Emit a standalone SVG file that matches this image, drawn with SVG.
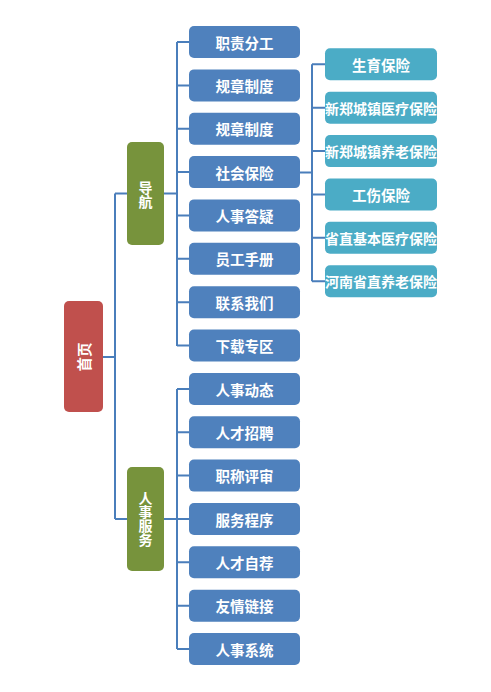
<svg xmlns="http://www.w3.org/2000/svg" width="491" height="692" viewBox="0 0 491 692">
<style>
.b{fill:#4F81BD}
.g{fill:#77933C}
.r{fill:#C0504D}
.t{fill:#4BACC6}
.lbl{font-family:"Noto Sans CJK SC","Noto Sans",sans-serif;font-size:14.5px;font-weight:bold;fill:#fff;text-anchor:middle;dominant-baseline:central}
.s{font-size:14px}
.v{writing-mode:vertical-rl;text-orientation:upright;font-size:14px}
#connectors path{fill:none;stroke:#4A7EBB;stroke-width:2}
</style>
<rect width="491" height="692" fill="#fff"/>
<g id="connectors">
<path d="M103,357 H115 M115,193.5 V519 M115,193.5 H127 M115,519 H127"/>
<path d="M164,193.5 H177 M177,42 V346 M177,42 H189 M177,85.4 H189 M177,128.7 H189 M177,172.1 H189 M177,215.4 H189 M177,258.8 H189 M177,302.2 H189 M177,345.5 H189"/>
<path d="M164,519 H177 M177,389 V649 M177,389 H189 M177,432.3 H189 M177,475.6 H189 M177,519 H189 M177,562.3 H189 M177,605.7 H189 M177,649 H189"/>
<path d="M300,172.5 H312 M312,64.3 V281.2 M312,64.3 H325 M312,107.7 H325 M312,151.1 H325 M312,194.5 H325 M312,237.8 H325 M312,281.2 H325"/>
</g>
<g id="n-home"><rect class="r" x="64" y="301" width="39" height="111" rx="5"/><text class="lbl" transform="translate(83.5,357) rotate(-90)" x="0" y="0">首页</text></g>
<g id="n-nav"><rect class="g" x="127" y="142" width="37" height="103" rx="5"/><text class="lbl v" x="145.5" y="195">导航</text></g>
<g id="n-hr"><rect class="g" x="127" y="467" width="37" height="104" rx="5"/><text class="lbl v" x="145.5" y="519">人事服务</text></g>
<g id="n1"><rect class="b" x="189" y="26" width="111" height="32" rx="5"/><text class="lbl" x="244.5" y="42">职责分工</text></g>
<g id="n2"><rect class="b" x="189" y="69.4" width="111" height="32" rx="5"/><text class="lbl" x="244.5" y="85.4">规章制度</text></g>
<g id="n3"><rect class="b" x="189" y="112.7" width="111" height="32" rx="5"/><text class="lbl" x="244.5" y="128.7">规章制度</text></g>
<g id="n4"><rect class="b" x="189" y="156.1" width="111" height="32" rx="5"/><text class="lbl" x="244.5" y="172.1">社会保险</text></g>
<g id="n5"><rect class="b" x="189" y="199.4" width="111" height="32" rx="5"/><text class="lbl" x="244.5" y="215.4">人事答疑</text></g>
<g id="n6"><rect class="b" x="189" y="242.8" width="111" height="32" rx="5"/><text class="lbl" x="244.5" y="258.8">员工手册</text></g>
<g id="n7"><rect class="b" x="189" y="286.2" width="111" height="32" rx="5"/><text class="lbl" x="244.5" y="302.2">联系我们</text></g>
<g id="n8"><rect class="b" x="189" y="329.5" width="111" height="32" rx="5"/><text class="lbl" x="244.5" y="345.5">下载专区</text></g>
<g id="h1"><rect class="b" x="189" y="373" width="111" height="32" rx="5"/><text class="lbl" x="244.5" y="389">人事动态</text></g>
<g id="h2"><rect class="b" x="189" y="416.3" width="111" height="32" rx="5"/><text class="lbl" x="244.5" y="432.3">人才招聘</text></g>
<g id="h3"><rect class="b" x="189" y="459.6" width="111" height="32" rx="5"/><text class="lbl" x="244.5" y="475.6">职称评审</text></g>
<g id="h4"><rect class="b" x="189" y="503" width="111" height="32" rx="5"/><text class="lbl" x="244.5" y="519">服务程序</text></g>
<g id="h5"><rect class="b" x="189" y="546.3" width="111" height="32" rx="5"/><text class="lbl" x="244.5" y="562.3">人才自荐</text></g>
<g id="h6"><rect class="b" x="189" y="589.7" width="111" height="32" rx="5"/><text class="lbl" x="244.5" y="605.7">友情链接</text></g>
<g id="h7"><rect class="b" x="189" y="633" width="111" height="32" rx="5"/><text class="lbl" x="244.5" y="649">人事系统</text></g>
<g id="i1"><rect class="t" x="325" y="48.3" width="112" height="32" rx="5"/><text class="lbl" x="381" y="64.3">生育保险</text></g>
<g id="i2"><rect class="t" x="325" y="91.7" width="112" height="32" rx="5"/><text class="lbl s" x="381" y="107.7">新郑城镇医疗保险</text></g>
<g id="i3"><rect class="t" x="325" y="135.1" width="112" height="32" rx="5"/><text class="lbl s" x="381" y="151.1">新郑城镇养老保险</text></g>
<g id="i4"><rect class="t" x="325" y="178.5" width="112" height="32" rx="5"/><text class="lbl" x="381" y="194.5">工伤保险</text></g>
<g id="i5"><rect class="t" x="325" y="221.8" width="112" height="32" rx="5"/><text class="lbl s" x="381" y="237.8">省直基本医疗保险</text></g>
<g id="i6"><rect class="t" x="325" y="265.2" width="112" height="32" rx="5"/><text class="lbl s" x="381" y="281.2">河南省直养老保险</text></g>
</svg>
